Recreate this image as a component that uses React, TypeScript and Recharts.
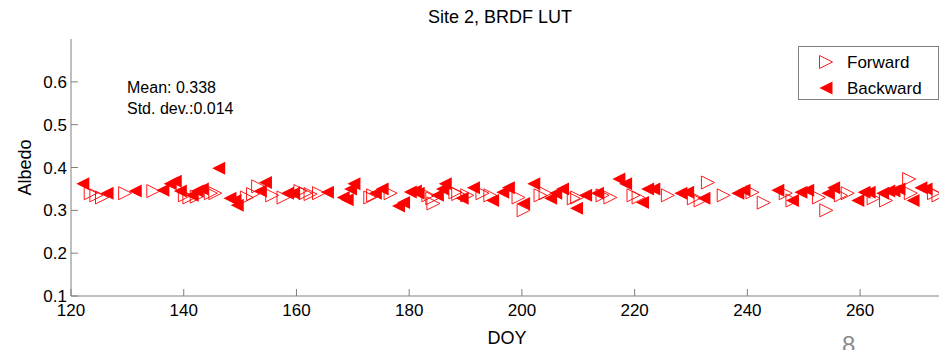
import {
  ScatterChart,
  Scatter,
  XAxis,
  YAxis,
  Legend,
} from "recharts";

// Forward retrievals (open, right-pointing triangles)
const forwardDoy = [
  123.5, 124.5, 125.5, 129.6, 134.6, 140.2, 141, 142.3, 144.8, 145.6, 151.2,
  152.3, 153.2, 155.7, 157.7, 160.7, 161.6, 162.5, 164, 173.1, 173.6, 176.7,
  183.4, 184.1, 184.3, 188.2, 188.7, 190.3, 193, 194.4, 199.4, 200.3, 203.3,
  204.2, 209.2, 209.8, 214.3, 215.7, 219.8, 220.7, 225.9, 230.5, 231.7, 233,
  235.8, 240.9, 242.9, 246.8, 248, 252.7, 254, 256.6, 257.8, 262.4, 264.6,
  268.7, 269, 273.1, 273.9,
];
const forwardAlbedo = [
  0.34, 0.335, 0.33, 0.34, 0.345, 0.335, 0.33, 0.332, 0.34, 0.34, 0.33, 0.338,
  0.356, 0.335, 0.33, 0.345, 0.34, 0.338, 0.34, 0.33, 0.335, 0.34, 0.335,
  0.328, 0.316, 0.342, 0.338, 0.335, 0.34, 0.335, 0.33, 0.3, 0.335, 0.34,
  0.328, 0.33, 0.335, 0.33, 0.335, 0.33, 0.335, 0.328, 0.323, 0.365, 0.335,
  0.342, 0.318, 0.34, 0.323, 0.33, 0.3, 0.335, 0.34, 0.328, 0.323, 0.373,
  0.34, 0.34, 0.335,
];

// Backward retrievals (filled, left-pointing triangles)
const backwardDoy = [
  122.1, 126.4, 131.4, 136.3, 137.6, 138.5, 139.4, 141.5, 142.4, 143.3, 146.2,
  148.2, 149.1, 149.5, 153.6, 154.5, 158.4, 159.5, 165.5, 168.3, 169, 169.6,
  170.2, 174, 175.2, 178.1, 179, 180.2, 181.1, 181.6, 185, 185.9, 186.4,
  189.4, 191.4, 194.8, 196.6, 197.6, 200.3, 202.1, 205.1, 206, 207.2, 209.7,
  211.3, 213.4, 217.2, 218.4, 221.4, 222.3, 223.4, 228.2, 229.4, 232.3,
  238.3, 239.4, 245.4, 248, 249.5, 250.7, 254.3, 255.3, 259.6, 260.7, 261.6,
  264, 265.1, 266, 266.9, 269.4, 270.8, 271.7,
];
const backwardAlbedo = [
  0.362, 0.34, 0.345, 0.347, 0.362, 0.368, 0.345, 0.335, 0.345, 0.35, 0.398,
  0.328, 0.323, 0.312, 0.345, 0.365, 0.34, 0.34, 0.342, 0.33, 0.325, 0.35,
  0.362, 0.34, 0.35, 0.31, 0.318, 0.343, 0.345, 0.34, 0.335, 0.35, 0.362,
  0.328, 0.353, 0.323, 0.342, 0.353, 0.316, 0.362, 0.328, 0.34, 0.35, 0.305,
  0.335, 0.34, 0.373, 0.362, 0.318, 0.35, 0.35, 0.34, 0.342, 0.328, 0.34,
  0.347, 0.347, 0.323, 0.342, 0.347, 0.34, 0.353, 0.323, 0.342, 0.342, 0.34,
  0.345, 0.345, 0.35, 0.323, 0.353, 0.35,
];

const xTicks = [120, 140, 160, 180, 200, 220, 240, 260];
const yTicks = [0.1, 0.2, 0.3, 0.4, 0.5, 0.6];

const forwardData = forwardDoy.map((d, i) => ({ doy: d, albedo: forwardAlbedo[i] }));
const backwardData = backwardDoy.map((d, i) => ({ doy: d, albedo: backwardAlbedo[i] }));

const RED = "#ff0000";
const AXIS = "#808080";
const FONT = "'Liberation Sans', Arial, sans-serif";

const ForwardMark = (p: any) => (
  <polygon
    points={`${p.cx - 6.5},${p.cy - 6.5} ${p.cx + 6.5},${p.cy} ${p.cx - 6.5},${p.cy + 6.5}`}
    fill="none"
    stroke={RED}
    strokeWidth={0.9}
  />
);

const BackwardMark = (p: any) => (
  <polygon
    points={`${p.cx + 6.5},${p.cy - 6.5} ${p.cx - 6.5},${p.cy} ${p.cx + 6.5},${p.cy + 6.5}`}
    fill={RED}
  />
);

// ticks point inward, like the MATLAB box
const BottomTick = (p: any) => (
  <g>
    <line x1={p.x} y1={p.y} x2={p.x} y2={p.y - 7} stroke={AXIS} />
    <text x={p.x} y={p.y + 20} textAnchor="middle" fontSize={17} fill="#000" fontFamily={FONT}>
      {p.payload.value}
    </text>
  </g>
);
const TopTick = (p: any) => (
  <line x1={p.x} y1={p.y} x2={p.x} y2={p.y + 7} stroke={AXIS} />
);
const LeftTick = (p: any) => (
  <g>
    <line x1={p.x} y1={p.y} x2={p.x + 7} y2={p.y} stroke={AXIS} />
    <text x={p.x - 4} y={p.y + 6} textAnchor="end" fontSize={17} fill="#000" fontFamily={FONT}>
      {p.payload.value.toFixed(1)}
    </text>
  </g>
);
const RightTick = (p: any) => (
  <line x1={p.x} y1={p.y} x2={p.x - 7} y2={p.y} stroke={AXIS} />
);

const AlbedoLabel = (p: any) => {
  const vb = p.viewBox;
  const cx = vb.x + 25;
  const cy = vb.y + vb.height / 2;
  return (
    <text
      x={cx}
      y={cy}
      transform={`rotate(-90, ${cx}, ${cy})`}
      textAnchor="middle"
      dominantBaseline="central"
      fontSize={18}
      fill="#000"
      fontFamily={FONT}
    >
      Albedo
    </text>
  );
};

const LegendBox = () => (
  <div
    style={{
      width: 139,
      height: 52,
      border: `1px solid ${AXIS}`,
      background: "#fff",
      fontFamily: FONT,
      fontSize: 17,
      position: "relative",
    }}
  >
    <svg width={139} height={52} style={{ position: "absolute", left: 0, top: 0 }}>
      <ForwardMark cx={27} cy={15} />
      <BackwardMark cx={27} cy={41} />
      <text x={48} y={21} fontSize={17} fontFamily={FONT}>Forward</text>
      <text x={48} y={47} fontSize={17} fontFamily={FONT}>Backward</text>
    </svg>
  </div>
);

export default function App() {
  return (
    <div
      style={{
        position: "absolute",
        left: 0,
        top: 0,
        width: 940,
        height: 350,
        background: "#fff",
        fontFamily: FONT,
        overflow: "hidden",
      }}
    >
      <div style={{ position: "absolute", left: 0, width: 1000, top: 7, textAlign: "center", fontSize: 18 }}>
        Site 2, BRDF LUT
      </div>
      <ScatterChart
        width={940}
        height={350}
        margin={{ top: 39, right: 1, bottom: 0, left: 0 }}
      >
        <XAxis
          xAxisId="bottom"
          dataKey="doy"
          type="number"
          domain={[120, 274]}
          allowDataOverflow
          ticks={xTicks}
          height={54}
          tickSize={0}
          tickMargin={0}
          tickLine={false}
          axisLine={{ stroke: AXIS }}
          tick={<BottomTick />}
          interval={0}
          label={{ value: "DOY", position: "insideBottom", offset: 6, fill: "#000", fontSize: 18, dx: 2 }}
        />
        <XAxis
          xAxisId="top"
          orientation="top"
          dataKey="doy"
          type="number"
          domain={[120, 274]}
          allowDataOverflow
          ticks={xTicks}
          height={0}
          tickSize={0}
          tickMargin={0}
          tickLine={false}
          axisLine={{ stroke: AXIS }}
          tick={<TopTick />}
          interval={0}
        />
        <YAxis
          yAxisId="left"
          dataKey="albedo"
          type="number"
          domain={[0.1, 0.7]}
          allowDataOverflow
          ticks={yTicks}
          width={71}
          tickSize={0}
          tickMargin={0}
          tickLine={false}
          axisLine={{ stroke: AXIS }}
          tick={<LeftTick />}
          interval={0}
          label={{ content: AlbedoLabel }}
        />
        <YAxis
          yAxisId="right"
          orientation="right"
          dataKey="albedo"
          type="number"
          domain={[0.1, 0.7]}
          allowDataOverflow
          ticks={yTicks}
          width={0}
          tickSize={0}
          tickMargin={0}
          tickLine={false}
          axisLine={{ stroke: AXIS }}
          tick={<RightTick />}
          interval={0}
        />
        <Scatter
          name="Forward"
          data={forwardData}
          xAxisId="bottom"
          yAxisId="left"
          shape={ForwardMark}
          isAnimationActive={false}
        />
        <Scatter
          name="Backward"
          data={backwardData}
          xAxisId="bottom"
          yAxisId="left"
          shape={BackwardMark}
          isAnimationActive={false}
        />
        <Scatter
          name="axes"
          data={forwardData}
          xAxisId="top"
          yAxisId="right"
          shape={() => <g />}
          legendType="none"
          isAnimationActive={false}
        />
        <Legend
          layout="horizontal"
          verticalAlign="middle"
          align="center"
          content={<LegendBox />}
          wrapperStyle={{ left: 798, top: 46, width: 141, height: 54 }}
        />
      </ScatterChart>
      <div style={{ position: "absolute", left: 127, top: 77, fontSize: 16, lineHeight: "21px", whiteSpace: "pre" }}>
        {"Mean: 0.338\nStd. dev.:0.014"}
      </div>
      <div style={{ position: "absolute", left: 842, top: 331, fontSize: 24, color: "#8a8a8a" }}>8</div>
    </div>
  );
}
